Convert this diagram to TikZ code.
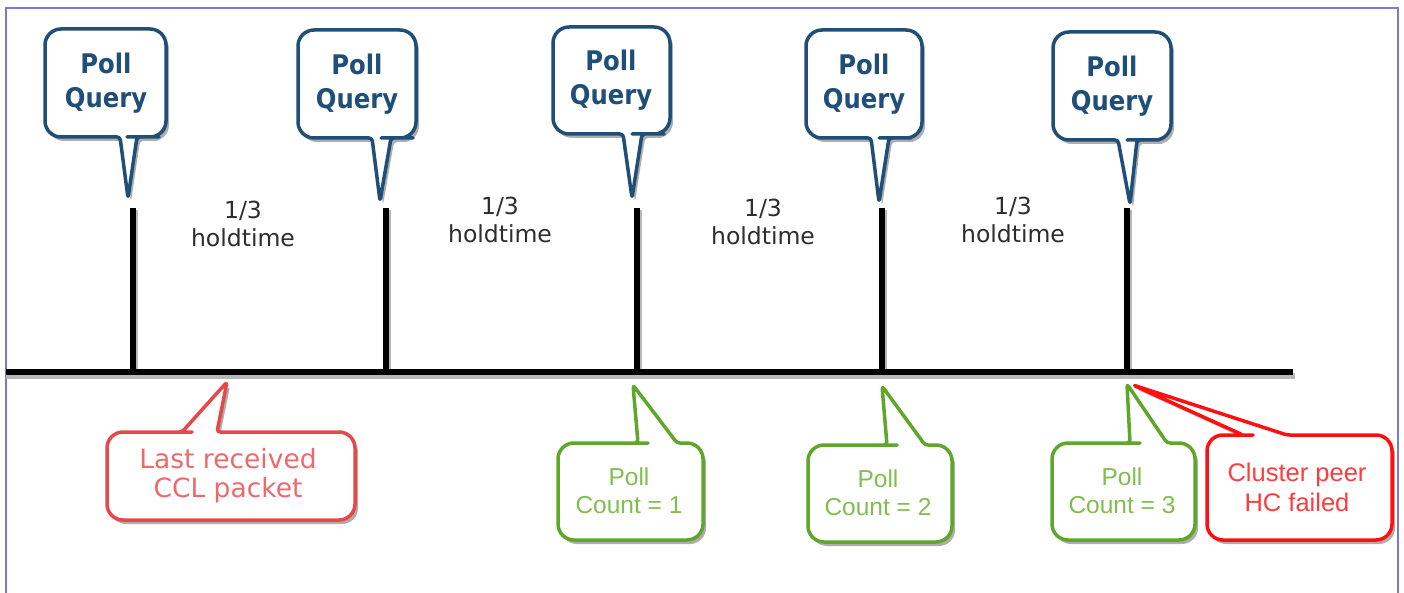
\documentclass[tikz,border=0pt]{standalone}
\usepackage{fontspec}
\setmainfont{DejaVu Sans}
\newfontfamily\condfont{DejaVu Sans Condensed}
\newfontfamily\arialfont{Liberation Sans}
\usetikzlibrary{shadows,calc}
\definecolor{pqblue}{RGB}{31,78,121}
\definecolor{lrred}{RGB}{232,72,74}
\definecolor{lrtext}{RGB}{238,105,108}
\definecolor{pcgreen}{RGB}{94,167,43}
\definecolor{pctext}{RGB}{128,190,80}
\definecolor{clred}{RGB}{255,16,16}
\definecolor{cltext}{RGB}{255,60,60}
\definecolor{framecol}{RGB}{120,120,225}
\definecolor{holdcol}{RGB}{45,45,45}
\tikzset{
  cobox/.style={line width=3.5pt, fill=white, line join=round,
    drop shadow={shadow xshift=3pt, shadow yshift=-4pt, opacity=0.45, fill=black!70}},
  pqbox/.style={cobox, draw=pqblue},
  lrbox/.style={cobox, draw=lrred},
  pcbox/.style={cobox, draw=pcgreen},
  clbox/.style={cobox, draw=clred},
  pqtext/.style={align=center, text=pqblue, font=\condfont\bfseries\fontsize{27}{34}\selectfont},
  holdtext/.style={align=center, text=holdcol, font=\fontsize{23.5}{28}\selectfont},
  lrtextst/.style={align=center, text=lrtext, font=\fontsize{26.5}{29}\selectfont},
  pctextst/.style={align=center, text=pctext, font=\arialfont\fontsize{24.5}{28}\selectfont},
  cltextst/.style={align=center, text=cltext, font=\arialfont\fontsize{25.5}{30}\selectfont},
  tickline/.style={line width=6pt, black},
  tickshadow/.style={line width=6pt, black!28},
  frameline/.style={line width=2pt, framecol},
}
% tail at bottom: #1 style, #2 x1, #3 y1, #4 x2, #5 y2, #6 tb1, #7 tb2, #8 ax, #9 ay
\newcommand\coDown[9]{%
  \draw[#1] (#2,{(#3+#5)/2}) [rounded corners=16pt] -- (#2,#3) -- (#4,#3) -- (#4,#5)
    -- ({#7+6},#5) [rounded corners=3pt] -- (#7,#5) -- (#8,#9) -- (#6,#5)
    -- ({#6-6},#5) [rounded corners=16pt] -- (#2,#5) -- cycle;}
% tail at top
\newcommand\coUp[9]{%
  \draw[#1] (#2,{(#3+#5)/2}) [rounded corners=16pt] -- (#2,#3)
    -- ({#6-6},#3) [rounded corners=3pt] -- (#6,#3) -- (#8,#9) -- (#7,#3)
    -- ({#7+6},#3) [rounded corners=16pt] -- (#4,#3) -- (#4,#5) -- (#2,#5) -- cycle;}
\begin{document}
\begin{tikzpicture}[x=1pt,y=-1pt]
\useasboundingbox (0,0) rectangle (1404,593);
\fill[white] (0,0) rectangle (1404,593);
% frame
\coordinate (fbl) at (6,593);
\coordinate (ftl) at (6,8);
\coordinate (ftr) at (1398,8);
\coordinate (fbr) at (1398,593);
\draw[frameline] (fbl) -- (ftl) -- (ftr) -- (fbr);

% timeline
\coordinate (tlA) at (6,372);
\coordinate (tlB) at (1293,372);
\foreach \n/\x in {1/133,2/386,3/637,4/882,5/1127}{
  \coordinate (top\n) at (\x,208);
  \coordinate (bot\n) at (\x,372);
}
\foreach \n in {1,...,5}{
  \draw[tickshadow] ($(top\n)+(2,2)$) -- ($(bot\n)+(2,2)$);
}
\draw[tickshadow] ($(tlA)+(0,4)$) -- ($(tlB)+(2,4)$);
\foreach \n in {1,...,5}{
  \draw[tickline] (top\n) -- (bot\n);
}
\draw[tickline] (tlA) -- (tlB);

% Poll Query callouts
\coDown{pqbox}{45}{29}{166}{137}{120}{137}{128}{198}
\coDown{pqbox}{298}{30}{416}{138}{372}{391}{380}{201}
\coDown{pqbox}{553}{27}{670}{134}{623}{642}{632}{198}
\coDown{pqbox}{806}{30}{922}{138}{871}{889}{879}{202}
\coDown{pqbox}{1053}{32}{1171}{140}{1118}{1137}{1130}{204}
\node[pqtext] (pq1) at (106,83) {Poll\\Query};
\node[pqtext] (pq2) at (357,84) {Poll\\Query};
\node[pqtext] (pq3) at (611,80) {Poll\\Query};
\node[pqtext] (pq4) at (864,84) {Poll\\Query};
\node[pqtext] (pq5) at (1112,86) {Poll\\Query};

% holdtime labels
\node[holdtext] (h1) at (243,224) {1/3\\holdtime};
\node[holdtext] (h2) at (500,220) {1/3\\holdtime};
\node[holdtext] (h3) at (763,222) {1/3\\holdtime};
\node[holdtext] (h4) at (1013,220) {1/3\\holdtime};

% bottom callouts
\coUp{lrbox}{107}{432}{355}{520}{182}{217}{227}{382}
\node[lrtextst] (lr) at (228,476) {Last received\\CCL packet};

\coUp{pcbox}{558}{443}{703}{540}{638}{677}{633}{385}
\node[pctextst] (pc1) at (629,491) {Poll\\Count = 1};

\coUp{pcbox}{808}{445}{952}{542}{887}{925}{882}{386}
\node[pctextst] (pc2) at (878,493) {Poll\\Count = 2};

\coUp{pcbox}{1052}{443}{1195}{540}{1130}{1167}{1127}{384}
\node[pctextst] (pc3) at (1122,491) {Poll\\Count = 3};

\coUp{clbox}{1207}{435}{1392}{540}{1243}{1287}{1133}{385}
\node[cltextst] (cl) at (1297,487) {Cluster peer\\HC failed};
\end{tikzpicture}
\end{document}
